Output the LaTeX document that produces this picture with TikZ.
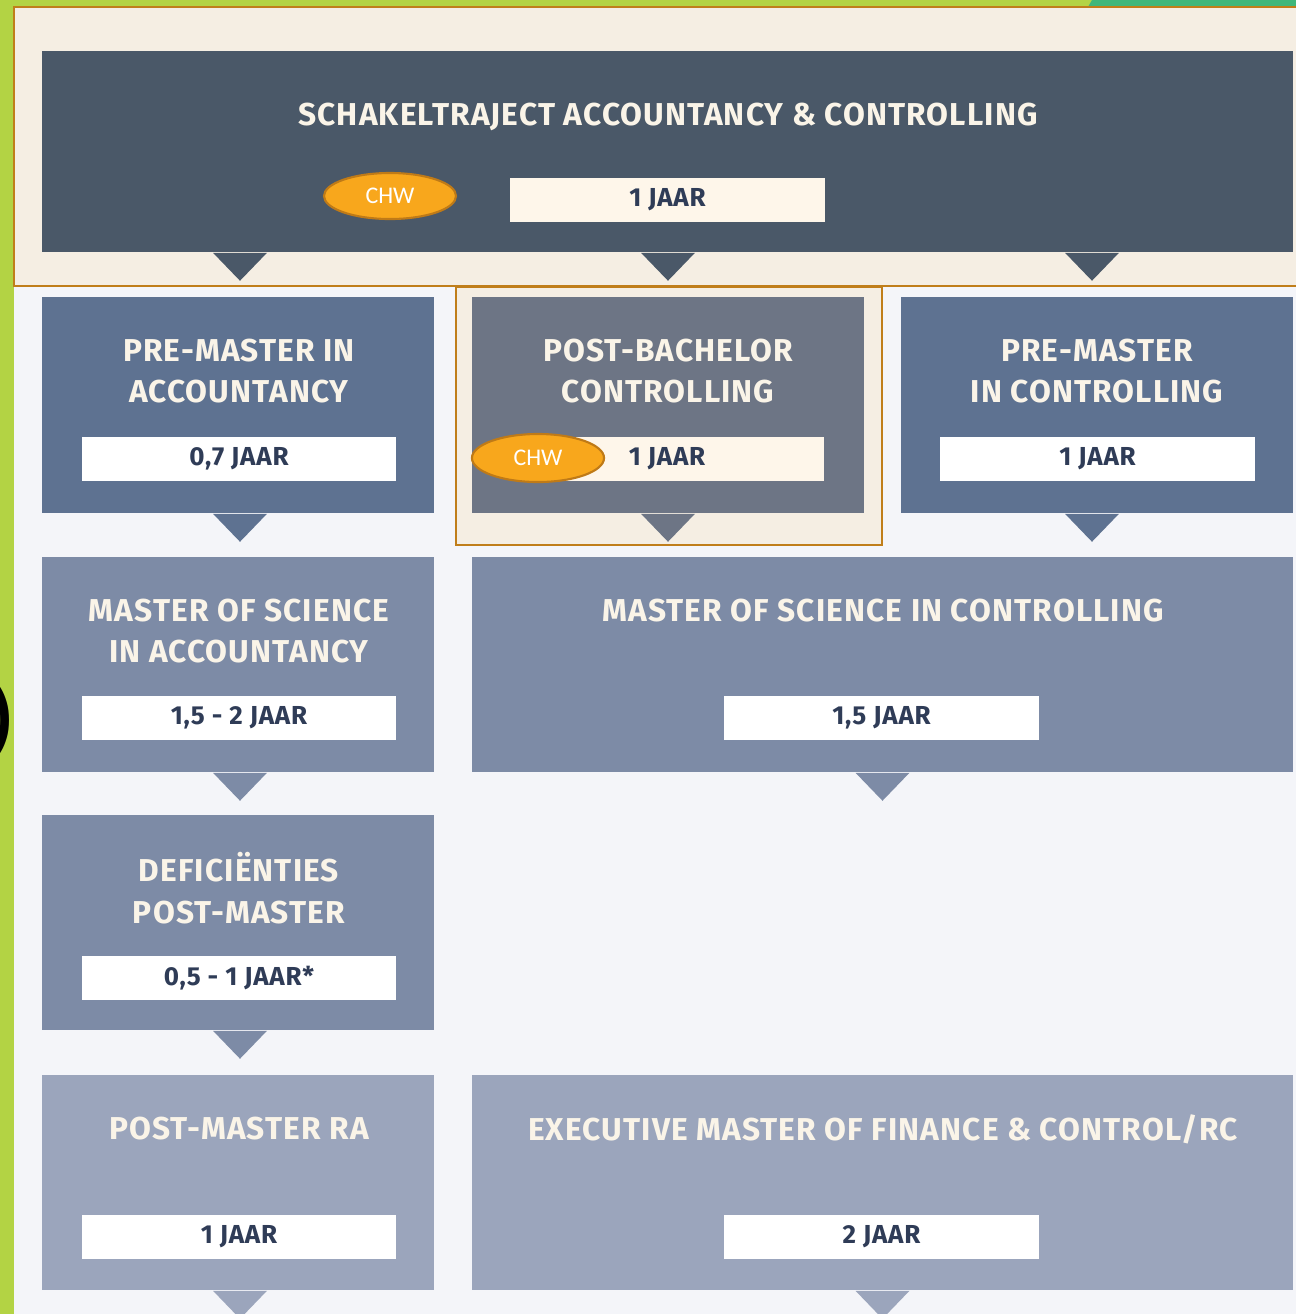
\documentclass[tikz,border=0pt]{standalone}
\usepackage{fontspec}
\setmainfont{Fira Sans}
\newfontfamily\chwfont{Carlito}
\usetikzlibrary{shapes.geometric}

\definecolor{achter}{HTML}{F4F5F9}
\definecolor{limoen}{HTML}{B3D344}
\definecolor{groen}{HTML}{3FB77A}
\definecolor{beige}{HTML}{F5EEE3}
\definecolor{rand}{HTML}{C07E1A}
\definecolor{donker}{HTML}{4A5868}
\definecolor{blauw}{HTML}{5E7291}
\definecolor{grijs}{HTML}{6D7585}
\definecolor{midden}{HTML}{7D8BA6}
\definecolor{licht}{HTML}{9BA5BC}
\definecolor{creme}{HTML}{FEF6EA}
\definecolor{titelkleur}{HTML}{FAF4E8}
\definecolor{jaarkleur}{HTML}{2F3C57}
\definecolor{oranje}{HTML}{F8A71C}
\definecolor{oranjerand}{HTML}{BF7A17}

\begin{document}
\begin{tikzpicture}[x = 0.01cm, y = -0.01cm,
  box/.style = {inner sep=0pt, minimum width=3.92cm, minimum height=2.15cm},
  titel/.style = {text=titelkleur, align=center, font=\fontsize{9}{11.9}\selectfont\bfseries\addfontfeatures{LetterSpace=3.5}},
  jaar/.style = {fill=white, inner sep=0pt, minimum width=3.14cm, minimum height=0.44cm, text=jaarkleur, font=\fontsize{7.4}{8}\selectfont\bfseries\addfontfeatures{LetterSpace=3}},
  chw/.style = {ellipse, fill=oranje, draw=oranjerand, line width=0.6pt, inner sep=0pt, minimum width=1.32cm, minimum height=0.46cm, text=white, font=\chwfont\fontsize{6.8}{8}\selectfont},
  kader/.style = {fill=beige, draw=rand, line width=0.6pt},
]

\useasboundingbox (0,0) rectangle (1296,1314);
\clip (0,0) rectangle (1296,1314);

% achtergrond en balken
\fill[achter] (0,0) rectangle (1296,1314);
\fill[limoen] (0,0) rectangle (14,1314);
\fill[limoen] (0,0) rectangle (1092,7);
\fill[groen] (1088,7) -- (1092,0) -- (1296,0) -- (1296,7) -- cycle;
\node[anchor=east, inner sep=0pt, font=\fontsize{26}{26}\selectfont] (haakje) at (14,720) {)};

% kaders
\draw[kader] (14,7) rectangle (1310,286);
\draw[kader] (456,287) rectangle (882,545);

% blokken
\node[box, fill=donker, minimum width=12.51cm, minimum height=2.01cm] (S) at (667.5,151.5) {};
\node[box, fill=blauw, minimum height=2.16cm] (PA) at (238,405) {};
\node[box, fill=grijs, minimum height=2.16cm] (PB) at (668,405) {};
\node[box, fill=blauw, minimum height=2.16cm] (PC) at (1097,405) {};
\node[box, fill=midden] (MA) at (238,664.5) {};
\node[box, fill=midden, minimum width=8.21cm] (MC) at (882.5,664.5) {};
\node[box, fill=midden] (DP) at (238,922.5) {};
\node[box, fill=licht] (PR) at (238,1182.5) {};
\node[box, fill=licht, minimum width=8.21cm] (EM) at (882.5,1182.5) {};

% pijlpunten
\fill[donker] (S.south -| 240,0) ++(-27,0) -- ++(54,0) -- ++(-27,28) -- cycle;
\fill[donker] (S.south -| PB.south) ++(-27,0) -- ++(54,0) -- ++(-27,28) -- cycle;
\fill[donker] (S.south -| 1092,0) ++(-27,0) -- ++(54,0) -- ++(-27,28) -- cycle;
\fill[blauw] (PA.south) ++(-25,0) -- ++(54,0) -- ++(-27,28) -- cycle;
\fill[grijs] (PB.south) ++(-27,0) -- ++(54,0) -- ++(-27,28) -- cycle;
\fill[blauw] (PC.south) ++(-32,0) -- ++(54,0) -- ++(-27,28) -- cycle;
\fill[midden] (MA.south) ++(-25,0) -- ++(54,0) -- ++(-27,28) -- cycle;
\fill[midden] (MC.south) ++(-27,0) -- ++(54,0) -- ++(-27,28) -- cycle;
\fill[midden] (DP.south) ++(-25,0) -- ++(54,0) -- ++(-27,28) -- cycle;
\fill[licht] (PR.south) ++(-25,0) -- ++(54,0) -- ++(-27,28) -- cycle;
\fill[licht] (EM.south) ++(-27,0) -- ++(54,0) -- ++(-27,28) -- cycle;

% titels
\node[titel] (St) at (668,117) {SCHAKELTRAJECT ACCOUNTANCY \& CONTROLLING};
\node[titel] (PAt) at (239,371) {PRE-MASTER IN\\ACCOUNTANCY};
\node[titel] (PBt) at (668,371) {POST-BACHELOR\\CONTROLLING};
\node[titel] (PCt) at (1097,371) {PRE-MASTER\\IN CONTROLLING};
\node[titel] (MAt) at (239,631) {MASTER OF SCIENCE\\IN ACCOUNTANCY};
\node[titel] (MCt) at (883,611) {MASTER OF SCIENCE IN CONTROLLING};
\node[titel] (DPt) at (239,888) {DEFICIËNTIES\\POST-MASTER};
\node[titel] (PRt) at (239,1129) {POST-MASTER RA};
\node[titel] (EMt) at (883,1129) {EXECUTIVE MASTER OF FINANCE \& CONTROL/RC};

% duur
\node[jaar, fill=creme] (Sj) at (667.5,200) {1 JAAR};
\node[jaar] (PAj) at (239,459) {0,7 JAAR};
\node[jaar, fill=creme] (PBj) at (667,459) {1 JAAR};
\node[jaar] (PCj) at (1097.5,459) {1 JAAR};
\node[jaar] (MAj) at (239,718) {1,5 - 2 JAAR};
\node[jaar] (MCj) at (881.5,718) {1,5 JAAR};
\node[jaar] (DPj) at (239,978) {0,5 - 1 JAAR*};
\node[jaar] (PRj) at (239,1237) {1 JAAR};
\node[jaar] (EMj) at (881.5,1237) {2 JAAR};

% CHW
\node[chw] (chw1) at (390,196) {CHW};
\node[chw, minimum height=0.48cm] (chw2) at (538,458) {CHW};

\end{tikzpicture}
\end{document}
